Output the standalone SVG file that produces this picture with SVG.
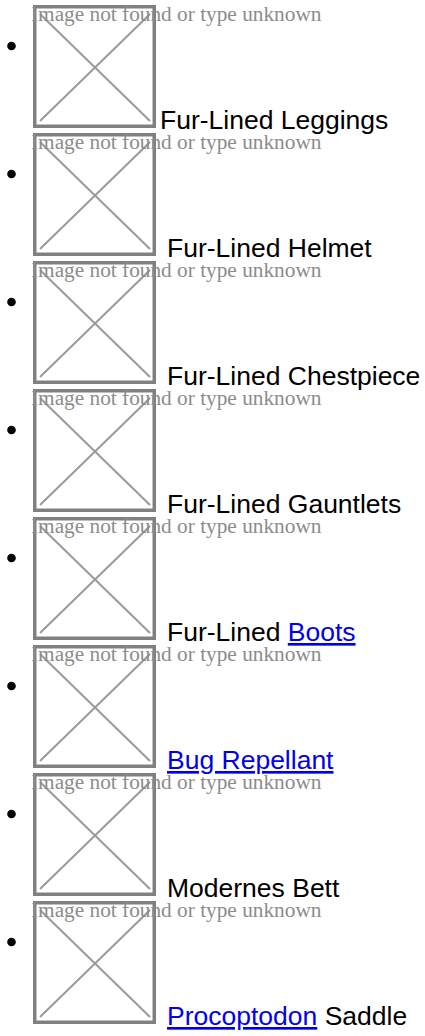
<svg xmlns="http://www.w3.org/2000/svg" width="425" height="1036" viewBox="0 0 425 1036">
<style>
.box{fill:none;stroke:#808080;stroke-width:3.5}
.x{stroke:#9a9a9a;stroke-width:2}
.alt{font-family:"Liberation Serif","Times New Roman",serif;font-size:21.3px;fill:#8c8c8c}
.lbl{font-family:"Liberation Sans",Arial,sans-serif;font-size:26.5px;fill:#000}
.lnk{fill:#0000ee;text-decoration:underline}
.bul{fill:#000}
</style>
<defs>
<g id="broken">
<rect class="box" x="34.75" y="1.75" width="119.5" height="119.5"/>
<line class="x" x1="40" y1="9" x2="150" y2="116"/>
<line class="x" x1="40" y1="116" x2="150" y2="9"/>
</g>
</defs>
<g id="item1">
<circle class="bul" cx="11.5" cy="46" r="4.3"/>
<use href="#broken" y="5"/>
<text class="alt" x="31" y="21">Image not found or type unknown</text>
<text class="lbl" x="160" y="129">Fur-Lined Leggings</text>
</g>
<g id="item2">
<circle class="bul" cx="11.5" cy="174" r="4.3"/>
<use href="#broken" y="133"/>
<text class="alt" x="31" y="149">Image not found or type unknown</text>
<text class="lbl" x="167" y="257">Fur-Lined Helmet</text>
</g>
<g id="item3">
<circle class="bul" cx="11.5" cy="302" r="4.3"/>
<use href="#broken" y="261"/>
<text class="alt" x="31" y="277">Image not found or type unknown</text>
<text class="lbl" x="167" y="385">Fur-Lined Chestpiece</text>
</g>
<g id="item4">
<circle class="bul" cx="11.5" cy="430" r="4.3"/>
<use href="#broken" y="389"/>
<text class="alt" x="31" y="405">Image not found or type unknown</text>
<text class="lbl" x="167" y="513">Fur-Lined Gauntlets</text>
</g>
<g id="item5">
<circle class="bul" cx="11.5" cy="558" r="4.3"/>
<use href="#broken" y="517"/>
<text class="alt" x="31" y="533">Image not found or type unknown</text>
<text class="lbl" x="167" y="641">Fur-Lined <tspan class="lnk">Boots</tspan></text>
</g>
<g id="item6">
<circle class="bul" cx="11.5" cy="686" r="4.3"/>
<use href="#broken" y="645"/>
<text class="alt" x="31" y="661">Image not found or type unknown</text>
<text class="lbl" x="167" y="769"><tspan class="lnk">Bug Repellant</tspan></text>
</g>
<g id="item7">
<circle class="bul" cx="11.5" cy="814" r="4.3"/>
<use href="#broken" y="773"/>
<text class="alt" x="31" y="789">Image not found or type unknown</text>
<text class="lbl" x="167" y="897">Modernes Bett</text>
</g>
<g id="item8">
<circle class="bul" cx="11.5" cy="942" r="4.3"/>
<use href="#broken" y="901"/>
<text class="alt" x="31" y="917">Image not found or type unknown</text>
<text class="lbl" x="167" y="1025"><tspan class="lnk">Procoptodon</tspan> Saddle</text>
</g>
<g id="connectors"/>
</svg>
